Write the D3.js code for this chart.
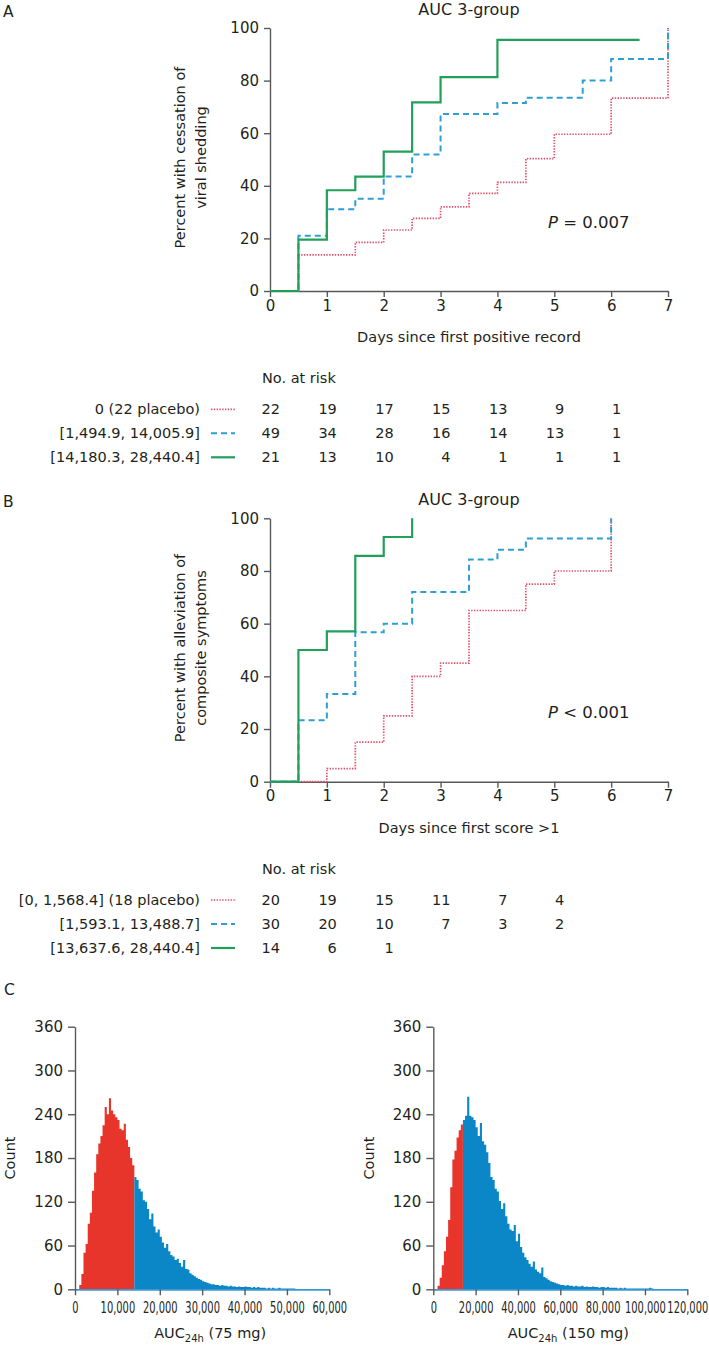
<!DOCTYPE html>
<html>
<head>
<meta charset="utf-8">
<script src="https://cdn.jsdelivr.net/npm/d3@7"></script>
<style>
  body { margin: 0; background: #fff; }
  svg text { font-family: "DejaVu Sans", "Liberation Sans", sans-serif; fill: #231f20; }
  svg text.narrow { font-family: "DejaVu Sans Condensed", "DejaVu Sans", sans-serif; font-stretch: condensed; }
</style>
</head>
<body>
<svg id="fig" width="709" height="1351"></svg>
<script>
/* ---------- data ---------- */
const days = [0, 1, 2, 3, 4, 5, 6, 7];
const percentTicks = [0, 20, 40, 60, 80, 100];
const riskDays = [0, 1, 2, 3, 4, 5, 6];

// A: cessation of viral shedding (step start times, cumulative %)
const aPlaceboT = [0, 0.5, 1.5, 2, 2.5, 3, 3.5, 4, 4.5, 5, 6, 7];
const aPlaceboV = [0, 13.7, 18.5, 23.2, 27.6, 32, 37.1, 41.3, 50.3, 59.6, 73.3, 100];
const aMidT = [0, 0.5, 1, 1.5, 2, 2.5, 3, 4, 4.5, 5.5, 6, 7];
const aMidV = [0, 21, 31.1, 35.1, 43.5, 51.9, 67.3, 71.5, 73.5, 80, 88.2, 100];
const aHighT = [0, 0.5, 1, 1.5, 2, 2.5, 3, 4, 6.5];
const aHighV = [0, 19.5, 38.3, 43.5, 53, 71.7, 81.3, 95.5, 95.5];
const aGroups = ['0 (22 placebo)', '[1,494.9, 14,005.9]', '[14,180.3, 28,440.4]'];
const aRisk = [
  [22, 19, 17, 15, 13, 9, 1],
  [49, 34, 28, 16, 14, 13, 1],
  [21, 13, 10, 4, 1, 1, 1],
];

// B: alleviation of composite symptoms
const bPlaceboT = [0, 1, 1.5, 2, 2.5, 3, 3.5, 4.5, 5, 6];
const bPlaceboV = [0, 5, 15, 25, 40, 45, 65, 75, 80, 100];
const bMidT = [0, 0.5, 1, 1.5, 2, 2.5, 3.5, 4, 4.5, 6];
const bMidV = [0, 23.3, 33.3, 56.7, 60, 72, 84.4, 88.1, 92.3, 100];
const bHighT = [0, 0.5, 1, 1.5, 2, 2.5];
const bHighV = [0, 50, 57.1, 85.7, 92.9, 100];
const bGroups = ['[0, 1,568.4] (18 placebo)', '[1,593.1, 13,488.7]', '[13,637.6, 28,440.4]'];
const bRisk = [
  [20, 19, 15, 11, 7, 4],
  [30, 20, 10, 7, 3, 2],
  [14, 6, 1],
];

// C: simulated AUC24h histograms
const countTicks = [0, 60, 120, 180, 240, 300, 360];
const auc75Ticks = [0, 10000, 20000, 30000, 40000, 50000, 60000];
const auc150Ticks = [0, 20000, 40000, 60000, 80000, 100000, 120000];
const auc75Bin = 500;
const auc150Bin = 1000;
const aucSplit = 14000;
const auc75Counts = [
  0, 0, 6, 21, 50, 62, 90, 105, 135, 160,
  185, 200, 210, 225, 250, 240, 262, 245, 240, 236,
  232, 220, 218, 227, 205, 195, 180, 170, 154, 150,
  138, 134, 122, 120, 110, 96, 104, 86, 78, 82,
  72, 64, 57, 62, 52, 47, 45, 40, 42, 36,
  31, 40, 28, 27, 22, 20, 18, 16, 14, 13,
  11, 10, 9, 8, 7, 7, 6, 6, 5, 6,
  5, 5, 4, 5, 4, 4, 3, 4, 3, 3,
  4, 3, 3, 2, 3, 2, 3, 2, 2, 2,
  1, 2, 1, 2, 1, 1, 2, 1, 1, 1,
  1, 1, 1, 1, 0, 0, 0, 0, 0, 0,
  0, 0, 0, 0, 0, 0, 0, 0, 0, 0,
];
const auc150Counts = [
  0, 0, 5, 16, 33, 52, 72, 95, 140, 178,
  190, 208, 218, 226, 232, 238, 264, 238, 236, 232,
  222, 210, 228, 203, 198, 188, 173, 154, 150, 138,
  134, 121, 110, 118, 100, 90, 82, 80, 88, 66,
  76, 58, 50, 44, 40, 35, 31, 38, 27, 24,
  22, 30, 17, 15, 13, 11, 10, 9, 8, 7,
  6, 6, 5, 6, 5, 5, 4, 5, 4, 4,
  5, 3, 4, 3, 3, 4, 3, 3, 2, 3,
  3, 2, 3, 2, 2, 2, 2, 1, 2, 1,
  2, 1, 1, 1, 1, 1, 1, 1, 1, 1,
  1, 1, 2, 1, 0, 0, 0, 0, 0, 0,
  0, 0, 0, 0, 0, 0, 0, 0, 0, 0,
];

/* ---------- styles ---------- */
const axisColor = '#58595b';
const lineStyles = [
  { stroke: '#e2506b', width: 1.7, dash: '1.4,1.4' }, // placebo / low
  { stroke: '#2e9fd2', width: 2, dash: '6,4' },       // middle
  { stroke: '#21a05a', width: 2.2, dash: null },      // high
];
const histRed = '#e8352b';
const histBlue = '#0b87c7';

const svg = d3.select('#fig');

function styleAxis(g, fs) {
  g.attr('font-size', fs);
  g.selectAll('.domain, .tick line').attr('stroke', axisColor).attr('stroke-width', 1.4);
  g.selectAll('.tick text').attr('fill', '#231f20');
}

/**
 * Kaplan-Meier style panel (A / B)
 */
function drawKM(cfg) {
  const x = d3.scaleLinear().domain([0, 7]).range([270, 668]);
  const y = d3.scaleLinear().domain([0, 100]).range([cfg.y0, cfg.y100]);
  const g = svg.append('g');

  // 坐标轴
  g.append('g')
    .attr('transform', `translate(0,${cfg.y0})`)
    .call(d3.axisBottom(x).tickValues(days).tickFormat(d3.format('d'))
      .tickSize(6).tickSizeOuter(0).tickPadding(3))
    .call(ax => styleAxis(ax, 15));
  g.append('g')
    .attr('transform', 'translate(270,0)')
    .call(d3.axisLeft(y).tickValues(percentTicks).tickSize(6).tickSizeOuter(0).tickPadding(5))
    .call(ax => styleAxis(ax, 15));

  // 阶梯曲线
  const line = d3.line()
    .x(d => x(d[0]))
    .y(d => y(d[1]))
    .curve(d3.curveStepAfter);
  cfg.series.forEach((s, i) => {
    const st = lineStyles[i];
    g.append('path')
      .datum(d3.zip(s.t, s.v))
      .attr('d', line)
      .attr('fill', 'none')
      .attr('stroke', st.stroke)
      .attr('stroke-width', st.width)
      .attr('stroke-dasharray', st.dash);
  });

  // 标题 / 轴标题 / P 值
  g.append('text').attr('x', 469).attr('y', cfg.y100 - 13)
    .attr('text-anchor', 'middle').attr('font-size', 16).text(cfg.title);
  g.append('text').attr('x', 469).attr('y', cfg.y0 + 51)
    .attr('text-anchor', 'middle').attr('font-size', 14.5).text(cfg.xLabel);
  const cy = (cfg.y0 + cfg.y100) / 2 - 2;
  cfg.yLabel.forEach((t, i) => {
    g.append('text')
      .attr('transform', `translate(${185 + i * 21},${cy}) rotate(-90)`)
      .attr('text-anchor', 'middle').attr('font-size', 14.5).text(t);
  });
  const p = g.append('text').attr('x', 548).attr('y', cfg.y0 - 63.5).attr('font-size', 16.5);
  p.append('tspan').attr('font-style', 'italic').text('P');
  p.append('tspan').text(cfg.pText);

  // panel letter
  g.append('text').attr('x', 3).attr('y', cfg.y100 - 11).attr('font-size', 15.5).text(cfg.letter);

  // No. at risk
  const top = cfg.y0 + 92;
  g.append('text').attr('x', 262).attr('y', top).attr('font-size', 14.5).text('No. at risk');
  cfg.groups.forEach((label, r) => {
    const by = top + 31.3 + r * 24;
    const st = lineStyles[r];
    g.append('text').attr('x', 200).attr('y', by)
      .attr('text-anchor', 'end').attr('font-size', 14.5).text(label);
    g.append('line')
      .attr('x1', 211).attr('x2', 235).attr('y1', by - 5).attr('y2', by - 5)
      .attr('stroke', st.stroke).attr('stroke-width', st.width)
      .attr('stroke-dasharray', st.dash);
    g.selectAll(null)
      .data(cfg.risk[r])
      .enter()
      .append('text')
      .attr('x', (d, i) => x(riskDays[i]) + 10)
      .attr('y', by)
      .attr('text-anchor', 'end')
      .attr('font-size', 14.5)
      .text(d => d);
  });
}

/**
 * 直方图 (C)
 */
function drawHist(cfg) {
  const xMax = cfg.ticks[cfg.ticks.length - 1];
  const x = d3.scaleLinear().domain([0, xMax]).range(cfg.xRange);
  const y = d3.scaleLinear().domain([0, 360]).range([1289.3, 1026.7]);
  const g = svg.append('g');

  // bins -> two step areas (below / above the split)
  const pts = cfg.counts.map((c, i) => [i * cfg.bin, c]);
  const low = pts.filter(p => p[0] < aucSplit);
  low.push([aucSplit, low[low.length - 1][1]]);
  const high = pts.filter(p => p[0] >= aucSplit);
  high.push([xMax, high[high.length - 1][1]]);

  const area = d3.area()
    .x(d => x(d[0]))
    .y0(y(0))
    .y1(d => y(d[1]))
    .curve(d3.curveStepAfter);
  g.append('path').datum(low).attr('d', area).attr('fill', histRed);
  g.append('path').datum(high).attr('d', area).attr('fill', histBlue);

  const xa = g.append('g')
    .attr('transform', 'translate(0,1289.3)')
    .call(d3.axisBottom(x).tickValues(cfg.ticks).tickFormat(d3.format(','))
      .tickSize(6).tickSizeOuter(0))
    .call(ax => styleAxis(ax, 11));
  xa.select('.domain').attr('stroke', '#3a98d0').attr('stroke-width', 1.8);
  // tall, condensed tick labels
  xa.selectAll('.tick text')
    .attr('class', 'narrow')
    .attr('y', 9.6)
    .attr('transform', 'scale(1,1.38)');

  g.append('g')
    .attr('transform', `translate(${cfg.xRange[0]},0)`)
    .call(d3.axisLeft(y).tickValues(countTicks).tickSize(7).tickSizeOuter(0).tickPadding(5))
    .call(ax => styleAxis(ax, 15));

  g.append('text')
    .attr('transform', `translate(${cfg.countX},1158) rotate(-90)`)
    .attr('text-anchor', 'middle').attr('font-size', 14.5).text('Count');

  const t = g.append('text')
    .attr('x', (cfg.xRange[0] + cfg.xRange[1]) / 2 + 8).attr('y', 1338)
    .attr('text-anchor', 'middle').attr('font-size', 14.5);
  t.append('tspan').text('AUC');
  t.append('tspan').attr('dy', 4).attr('font-size', 10).text('24h');
  t.append('tspan').attr('dy', -4).text(cfg.dose);
}

drawKM({
  letter: 'A', y0: 291, y100: 28,
  title: 'AUC 3-group',
  xLabel: 'Days since first positive record',
  yLabel: ['Percent with cessation of', 'viral shedding'],
  pText: ' = 0.007',
  series: [
    { t: aPlaceboT, v: aPlaceboV },
    { t: aMidT, v: aMidV },
    { t: aHighT, v: aHighV },
  ],
  groups: aGroups, risk: aRisk,
});

drawKM({
  letter: 'B', y0: 781.7, y100: 518.3,
  title: 'AUC 3-group',
  xLabel: 'Days since first score >1',
  yLabel: ['Percent with alleviation of', 'composite symptoms'],
  pText: ' < 0.001',
  series: [
    { t: bPlaceboT, v: bPlaceboV },
    { t: bMidT, v: bMidV },
    { t: bHighT, v: bHighV },
  ],
  groups: bGroups, risk: bRisk,
});

svg.append('text').attr('x', 4).attr('y', 995).attr('font-size', 15.5).text('C');

drawHist({ counts: auc75Counts, bin: auc75Bin, ticks: auc75Ticks, xRange: [75, 329.3], countX: 15, dose: ' (75 mg)' });
drawHist({ counts: auc150Counts, bin: auc150Bin, ticks: auc150Ticks, xRange: [433.3, 687.3], countX: 374, dose: ' (150 mg)' });
</script>
</body>
</html>
